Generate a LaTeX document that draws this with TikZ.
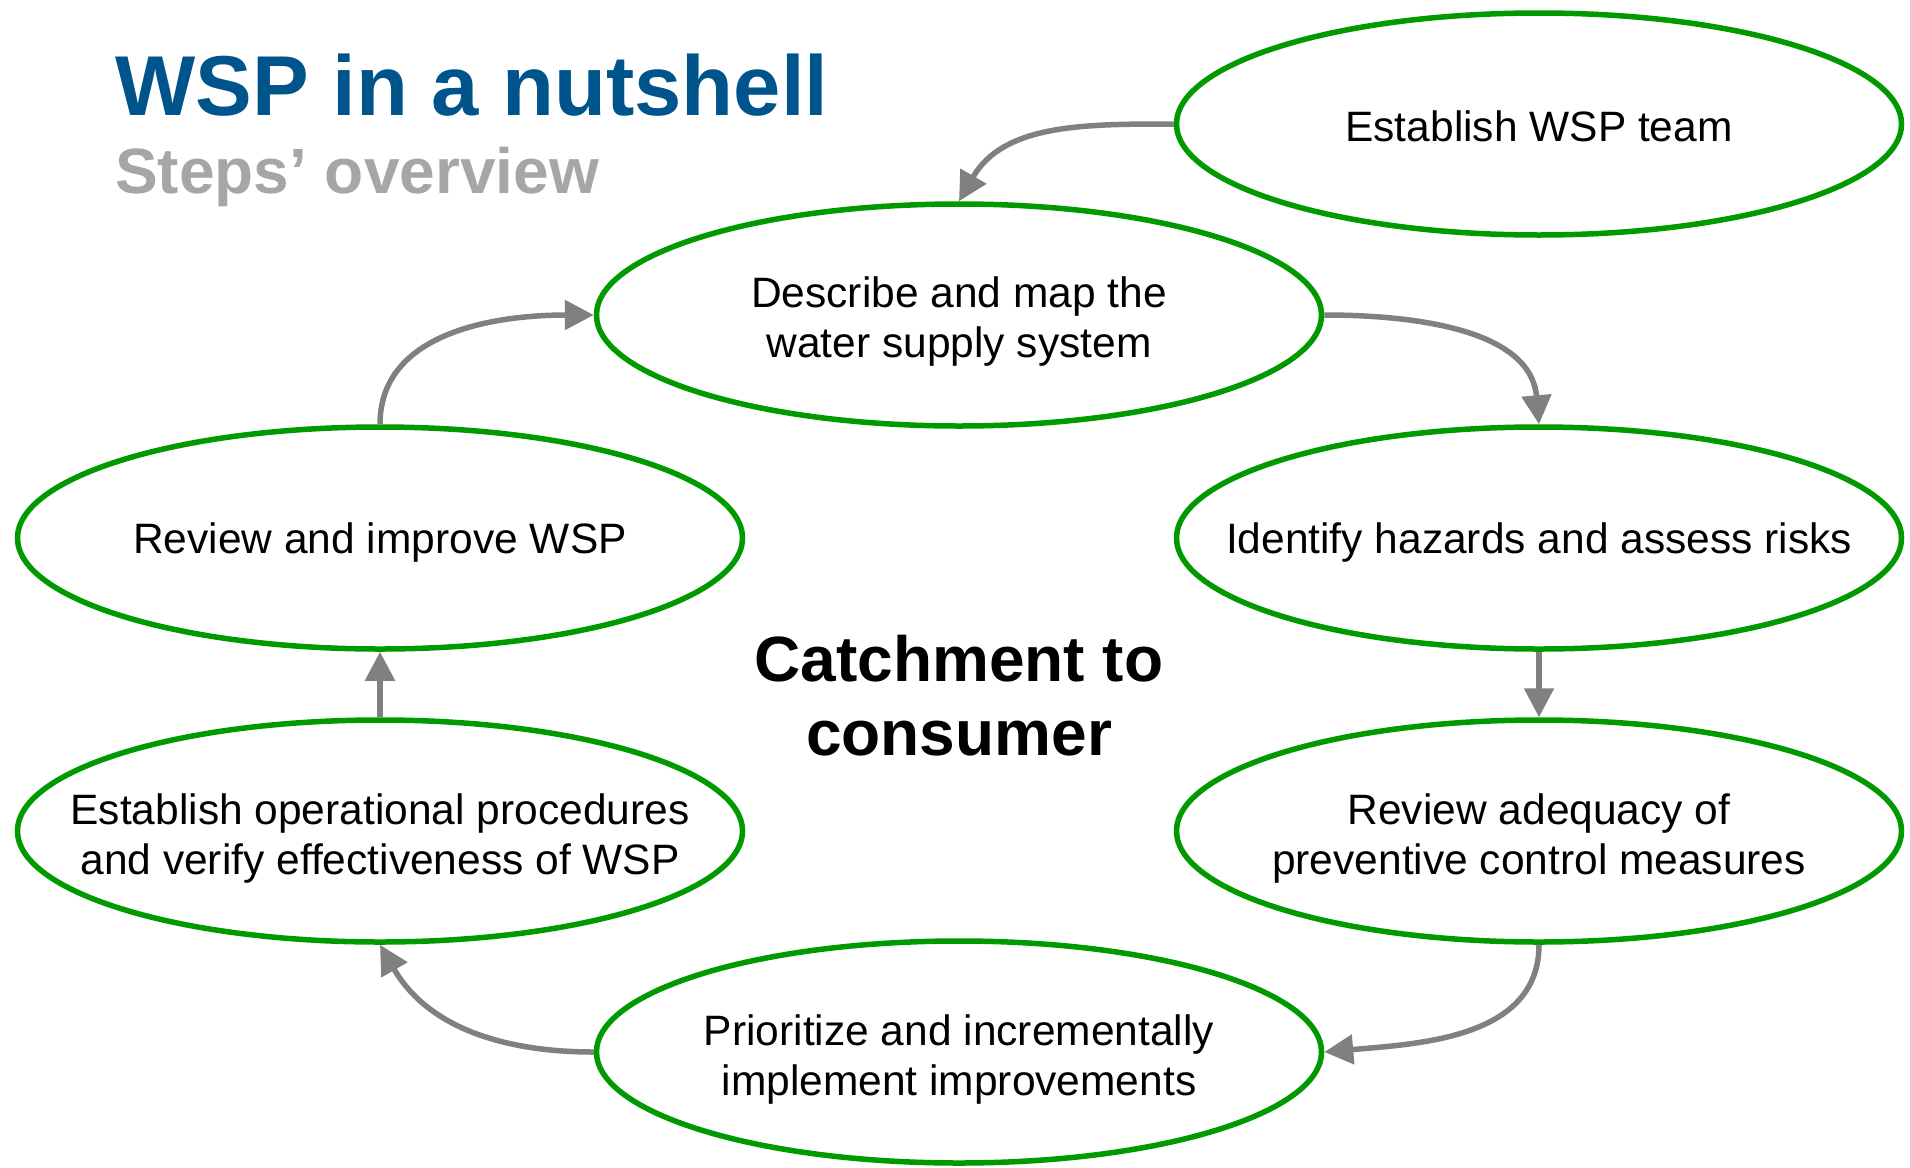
\documentclass[tikz,border=0pt]{standalone}
\usepackage{fontspec}
\setmainfont{Liberation Sans}
\usetikzlibrary{shapes.geometric,arrows.meta}
\definecolor{titleblue}{RGB}{0,84,140}
\definecolor{subgray}{RGB}{166,166,166}
\definecolor{stepgreen}{RGB}{0,153,0}
\definecolor{arrowgray}{RGB}{128,128,128}
\tikzset{
  stepellipse/.style={ellipse, draw=stepgreen, line width=5.5pt, fill=white,
    minimum width=725pt, minimum height=222pt, inner sep=0pt},
  steptext/.style={align=center, inner sep=0pt, font=\fontsize{42.5}{50}\selectfont},
  flow/.style={draw=arrowgray, line width=5.5pt, -{Triangle[length=29pt,width=29pt]}}
}
\begin{document}
\begin{tikzpicture}[x=1pt,y=-1pt]
\useasboundingbox (0,0) rectangle (1910,1167);
\node[anchor=base west, inner sep=0pt, text=titleblue, font=\fontsize{85}{90}\selectfont\bfseries] (title) at (115,115) {WSP in a nutshell};
\node[anchor=base west, inner sep=0pt, text=subgray, font=\fontsize{64}{70}\selectfont\bfseries] (subtitle) at (115,193) {Steps’ overview};

\node[stepellipse] (team) at (1539,124) {};
\node[stepellipse] (desc) at (959,315) {};
\node[stepellipse] (haz) at (1539,538) {};
\node[stepellipse] (adeq) at (1539,831) {};
\node[stepellipse] (prio) at (959,1052) {};
\node[stepellipse] (oper) at (380,831) {};
\node[stepellipse] (rev) at (380,538) {};

\node[steptext] (teamtxt) at ([yshift=-2pt]team.center) {Establish WSP team};
\node[steptext] (desctxt) at ([yshift=-7pt]desc.center) {Describe and map the\\water supply system};
\node[steptext] (haztxt) at ([yshift=-5pt]haz.center) {Identify hazards and assess risks};
\node[steptext] (adeqtxt) at ([yshift=-7pt]adeq.center) {Review adequacy of\\preventive control measures};
\node[steptext] (priotxt) at ([yshift=-7pt]prio.center) {Prioritize and incrementally\\implement improvements};
\node[steptext] (opertxt) at ([yshift=-7pt]oper.center) {Establish operational procedures\\and verify effectiveness of WSP};
\node[steptext] (revtxt) at ([yshift=-5pt]rev.center) {Review and improve WSP};

\node[align=center, inner sep=0pt, font=\fontsize{64}{74}\selectfont\bfseries] (center) at (959,696) {Catchment to\\consumer};

\draw[flow] (team.west) to[out=180, in=60] (desc.north);
\draw[flow] (desc.east) to[out=0, in=95] (haz.north);
\draw[flow] (haz.south) -- (adeq.north);
\draw[flow] (adeq.south) to[out=-90, in=5] (prio.east);
\draw[flow] (prio.west) to[out=180, in=-60] (oper.south);
\draw[flow] (oper.north) -- (rev.south);
\draw[flow] (rev.north) to[out=90, in=180] (desc.west);
\end{tikzpicture}
\end{document}
